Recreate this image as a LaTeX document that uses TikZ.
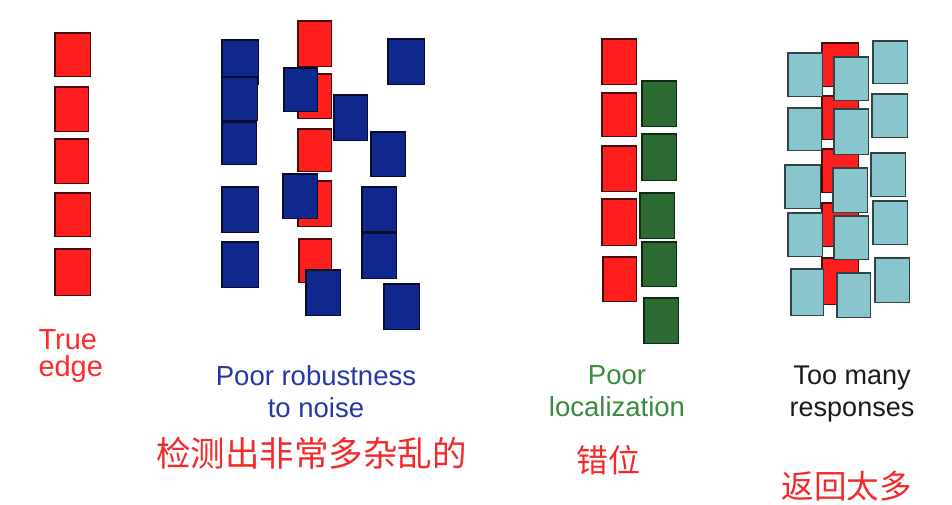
\documentclass[tikz,border=0pt]{standalone}
\usepackage{fontspec}
\setmainfont{Liberation Sans}
\newfontfamily\cjkfont{Noto Sans CJK SC}
\definecolor{redfill}{HTML}{FF1E1E}
\definecolor{redline}{HTML}{4A0A0A}
\definecolor{bluefill}{HTML}{0E288E}
\definecolor{blueline}{HTML}{0A0A2A}
\definecolor{greenfill}{HTML}{2B6B32}
\definecolor{greenline}{HTML}{122812}
\definecolor{cyanfill}{HTML}{88C5CC}
\definecolor{cyanline}{HTML}{2F4545}
\definecolor{txtred}{HTML}{FF2A2A}
\definecolor{txtblue}{HTML}{2438A8}
\definecolor{txtgreen}{HTML}{3A8A40}
\definecolor{txtblack}{HTML}{1A1A1A}
\definecolor{cjkred}{HTML}{F42A2A}
\newcommand{\mybox}[6]{\node[#2, minimum width=#5pt-1.5pt, minimum height=#6pt-1.5pt] (#1) at (#3,#4) {};}
\begin{document}
\begin{tikzpicture}[x=1pt,y=-1pt,
  boxbase/.style={line width=1.5pt, inner sep=0pt, outer sep=0pt},
  rbox/.style={boxbase, draw=redline, fill=redfill},
  bbox/.style={boxbase, draw=blueline, fill=bluefill},
  gbox/.style={boxbase, draw=greenline, fill=greenfill},
  cbox/.style={boxbase, draw=cyanline, fill=cyanfill},
  lbl/.style={inner sep=0pt, outer sep=0pt, font=\fontsize{27.5}{31.7}\selectfont},
  cjklbl/.style={inner sep=0pt, outer sep=0pt, text=cjkred}
]
\useasboundingbox[fill=white] (0,0) rectangle (952,504);

% Panel 1: true edge
\mybox{t1}{rbox}{72.5}{54.5}{37}{45}
\mybox{t2}{rbox}{71.5}{109}{35}{46}
\mybox{t3}{rbox}{71.5}{161}{35}{46}
\mybox{t4}{rbox}{72.5}{214.5}{37}{45}
\mybox{t5}{rbox}{72.5}{272}{37}{48}

% Panel 2: poor robustness
\mybox{b1}{bbox}{240}{62}{38}{46}
\mybox{b2}{bbox}{239.5}{98.5}{37}{45}
\mybox{b3}{bbox}{239}{143}{36}{44}
\mybox{b4}{bbox}{240}{209.5}{38}{47}
\mybox{b5}{bbox}{240}{264.5}{38}{47}
\mybox{r1}{rbox}{314.5}{43.5}{35}{47}
\mybox{r2}{rbox}{314.5}{96}{35}{46}
\mybox{r3}{rbox}{314.5}{150}{35}{44}
\mybox{r4}{rbox}{314.5}{203.5}{35}{47}
\mybox{r5}{rbox}{315}{260.5}{34}{45}
\mybox{m1}{bbox}{300.5}{89.5}{35}{45}
\mybox{m2}{bbox}{300}{196}{36}{46}
\mybox{m3}{bbox}{323}{292.5}{36}{47}
\mybox{n1}{bbox}{350.5}{117.5}{35}{47}
\mybox{n2}{bbox}{388}{154}{36}{46}
\mybox{n3}{bbox}{406}{61.5}{38}{47}
\mybox{n4}{bbox}{379}{209}{36}{46}
\mybox{n5}{bbox}{379}{255.5}{36}{47}
\mybox{n6}{bbox}{401.5}{306.5}{37}{47}

% Panel 3: poor localization
\mybox{p1}{rbox}{619}{61.5}{36}{47}
\mybox{p2}{rbox}{619}{114.5}{36}{45}
\mybox{p3}{rbox}{619}{168.5}{36}{47}
\mybox{p4}{rbox}{619}{222}{36}{48}
\mybox{p5}{rbox}{619.5}{279}{35}{46}
\mybox{g1}{gbox}{659}{103.5}{36}{47}
\mybox{g2}{gbox}{659}{157}{36}{48}
\mybox{g3}{gbox}{657}{215.5}{36}{47}
\mybox{g4}{gbox}{659}{264}{36}{46}
\mybox{g5}{gbox}{661}{320.5}{36}{47}

% Panel 4: too many responses
\mybox{q1}{rbox}{840}{64.5}{38}{45}
\mybox{q2}{rbox}{840}{117.5}{38}{45}
\mybox{q3}{rbox}{840}{170.5}{38}{45}
\mybox{q4}{rbox}{840}{224.5}{38}{45}
\mybox{q5}{rbox}{840}{281}{38}{48}
\mybox{l1}{cbox}{805}{74.5}{36}{45}
\mybox{l2}{cbox}{804.5}{129}{35}{44}
\mybox{l3}{cbox}{802.5}{186.5}{37}{45}
\mybox{l4}{cbox}{805}{234.5}{36}{45}
\mybox{l5}{cbox}{807}{292}{34}{48}
\mybox{c1}{cbox}{851}{78.5}{36}{45}
\mybox{c2}{cbox}{851}{131.5}{36}{47}
\mybox{c3}{cbox}{850}{190}{36}{46}
\mybox{c4}{cbox}{851}{237.5}{36}{45}
\mybox{c5}{cbox}{853.5}{295}{35}{46}
\mybox{d1}{cbox}{890}{62}{36}{44}
\mybox{d2}{cbox}{889.5}{115.5}{37}{45}
\mybox{d3}{cbox}{888}{174.5}{36}{45}
\mybox{d4}{cbox}{890}{222.5}{36}{45}
\mybox{d5}{cbox}{892}{280}{36}{46}

% Labels
\node[lbl, font=\fontsize{29}{26.5}\selectfont, text=txtred, align=left, anchor=north west] (truelbl) at (38.5,330) {True\\edge};
\node[lbl, text=txtblue, align=center, anchor=north] (noiselbl) at (316,366) {Poor robustness\\to noise};
\node[lbl, text=txtgreen, align=center, anchor=north] (loclbl) at (617,366) {Poor\\localization};
\node[lbl, font=\fontsize{27}{31.7}\selectfont, text=txtblack, align=center, anchor=north] (resplbl) at (852,366) {Too many\\responses};

\node[cjklbl, font=\cjkfont\fontsize{34.5}{36}\selectfont] (cjk1) at (311.5,453.5) {检测出非常多杂乱的};
\node[cjklbl, font=\cjkfont\fontsize{32}{34}\selectfont] (cjk2) at (608,460) {错位};
\node[cjklbl, font=\cjkfont\fontsize{32.5}{34}\selectfont] (cjk3) at (846.7,486.4) {返回太多};
\end{tikzpicture}
\end{document}
